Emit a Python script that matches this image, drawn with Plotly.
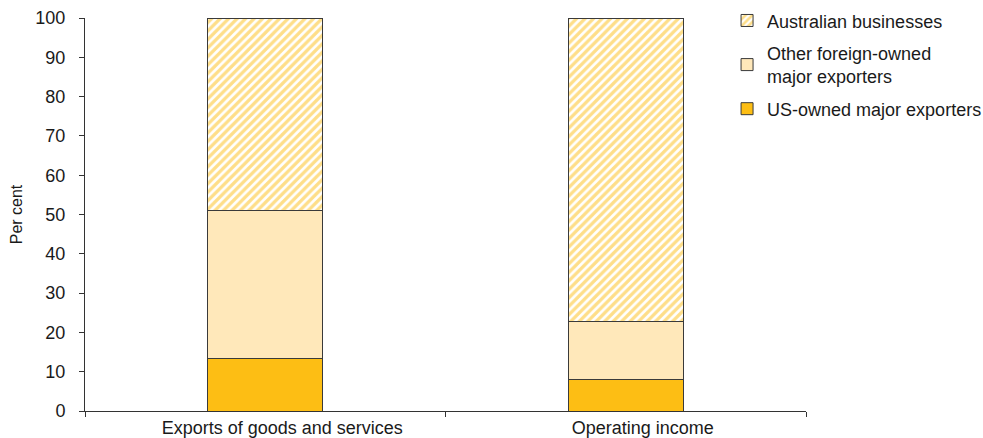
import plotly.graph_objects as go

categories = ["Exports of goods and services", "Operating income"]
us_owned = [13.3, 8.1]
other_foreign = [37.8, 14.6]
australian = [48.9, 77.3]
y_ticks = [0, 10, 20, 30, 40, 50, 60, 70, 80, 90, 100]

FONT = "Liberation Sans, Arial, sans-serif"
GOLD = "#FDBE14"
CREAM = "#FFE8BA"
EDGE = "#3a3a3a"
TEXT = "#1a1a1a"

fig = go.Figure()
fig.add_trace(go.Bar(
    x=categories, y=us_owned, name="US-owned major exporters",
    legendgroup="us", legendrank=3,
    marker=dict(color=GOLD, line=dict(color=EDGE, width=1)),
))
fig.add_trace(go.Bar(
    x=categories, y=other_foreign, name="Other foreign-owned<br>major exporters",
    legendgroup="other", legendrank=2,
    marker=dict(color=CREAM, line=dict(color=EDGE, width=1)),
))
fig.add_trace(go.Bar(
    x=categories, y=australian, name="Australian businesses",
    legendgroup="aus", legendrank=1,
    marker=dict(
        color="white",
        line=dict(color=EDGE, width=1),
        pattern=dict(shape="/", fgcolor=GOLD, bgcolor="white", size=6, solidity=0.55),
    ),
))

fig.update_layout(
    barmode="stack",
    bargap=0.68,
    width=983, height=438,
    margin=dict(l=85, r=177, t=18, b=27, autoexpand=False),
    paper_bgcolor="white", plot_bgcolor="white",
    font=dict(family=FONT, size=18, color=TEXT),
    showlegend=True,
    legend=dict(
        x=0.8905, xanchor="left", y=1.04, yanchor="top",
        traceorder="grouped", tracegroupgap=6,
        font=dict(family=FONT, size=18, color=TEXT),
        bgcolor="rgba(0,0,0,0)",
        itemwidth=30,
    ),
    xaxis=dict(
        showline=True, linecolor="#333", linewidth=1,
        ticks="outside", ticklen=5, tickcolor="#333",
        tickson="boundaries", ticklabelshift=17,
        showgrid=False, automargin=False,
        tickfont=dict(family=FONT, size=18, color=TEXT),
    ),
    yaxis=dict(
        range=[0, 100], tickvals=y_ticks,
        showline=True, linecolor="#333", linewidth=1,
        ticks="outside", ticklen=5, tickcolor="#333",
        ticklabelstandoff=10,
        showgrid=False, zeroline=False, automargin=False,
        tickfont=dict(family=FONT, size=18, color=TEXT),
        title=dict(text="Per cent", font=dict(family=FONT, size=16, color=TEXT), standoff=8),
    ),
)

fig.write_html("out.html")
